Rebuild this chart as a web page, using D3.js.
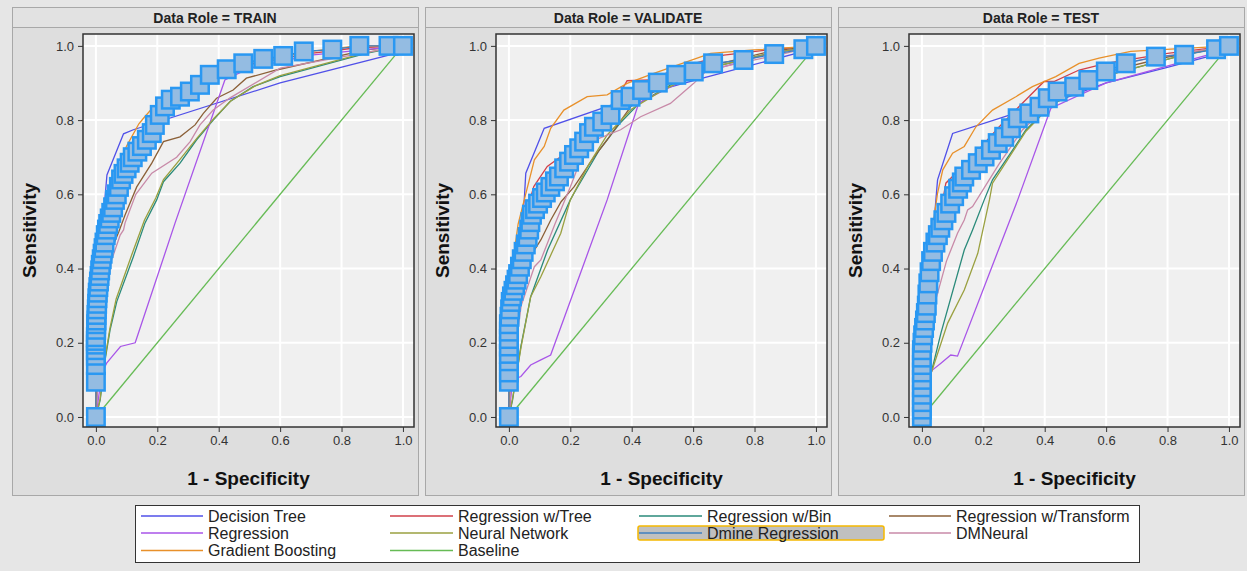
<!DOCTYPE html>
<html>
<head>
<meta charset="utf-8">
<script src="https://cdn.jsdelivr.net/npm/d3@7"></script>
<style>
  body { margin: 0; background: #e6e6e6; font-family: "Liberation Sans", Arial, sans-serif; }
  .tick text { font-size: 13px; fill: #333; }
  .tick line { stroke: #333; }
  .domain { display: none; }
</style>
</head>
<body>
<div id="chart"></div>
<script>
const roles = ["TRAIN", "VALIDATE", "TEST"]
const models = ["Decision Tree", "Regression w/Tree", "Regression w/Bin", "Regression w/Transform",
                "Regression", "Neural Network", "Dmine Regression", "DMNeural",
                "Gradient Boosting", "Baseline"]
const colors = ["#5050e8", "#d0404a", "#2a8a7a", "#8b6038",
                "#a855e8", "#9aa040", "#3f7fc0", "#c88aa8",
                "#e8902a", "#66bb55"]
const tickValues = [0, 0.2, 0.4, 0.6, 0.8, 1.0]

// [1 - specificity, sensitivity] pairs
const baseline = [[0, 0], [1, 1]]

const trainTree = [[0,0],[0.01,0.2],[0.02,0.45],[0.03,0.594],[0.036,0.652],[0.09,0.763],[0.122,0.774],[0.6,0.9],[0.957,0.976],[1,1]]
const trainRegTree = [[0,0],[0.001,0.12],[0.005,0.3],[0.02,0.45],[0.04,0.53],[0.07,0.61],[0.1,0.67],[0.15,0.735],[0.2,0.78],[0.25,0.83],[0.35,0.9],[0.5,0.95],[0.7,0.98],[0.85,0.995],[1,1]]
const trainRegBin = [[0,0],[0.014,0.046],[0.03,0.154],[0.046,0.234],[0.068,0.311],[0.122,0.432],[0.16,0.523],[0.198,0.585],[0.22,0.634],[0.274,0.684],[0.328,0.747],[0.382,0.8],[0.437,0.85],[0.512,0.89],[0.6,0.917],[0.88,0.98],[1,1]]
const trainRegTrans = [[0,0],[0.005,0.1],[0.015,0.25],[0.03,0.38],[0.05,0.45],[0.075,0.5],[0.095,0.544],[0.133,0.62],[0.182,0.684],[0.22,0.742],[0.274,0.755],[0.323,0.787],[0.35,0.818],[0.393,0.859],[0.447,0.881],[0.49,0.913],[0.588,0.935],[0.88,0.989],[1,1]]
const trainReg = [[0,0],[0.02,0.12],[0.035,0.145],[0.06,0.17],[0.08,0.19],[0.128,0.2],[0.258,0.523],[0.42,0.908],[0.5,0.94],[0.7,0.975],[1,1]]
const trainNeural = [[0,0],[0.014,0.05],[0.03,0.16],[0.046,0.24],[0.066,0.318],[0.118,0.44],[0.158,0.53],[0.195,0.59],[0.22,0.64],[0.27,0.69],[0.33,0.752],[0.385,0.805],[0.44,0.852],[0.52,0.893],[0.6,0.92],[0.88,0.982],[1,1]]
const trainDmine = [[0,0],[0,0.095],[0,0.14],[0,0.165],[0,0.18],[0,0.195],[0,0.205],[0,0.215],[0.001,0.235],[0.001,0.25],[0.002,0.26],[0.002,0.275],[0.003,0.29],[0.004,0.305],[0.005,0.32],[0.006,0.335],[0.008,0.35],[0.01,0.365],[0.012,0.38],[0.014,0.395],[0.016,0.41],[0.019,0.425],[0.022,0.44],[0.025,0.455],[0.028,0.47],[0.032,0.49],[0.036,0.505],[0.04,0.52],[0.045,0.535],[0.05,0.55],[0.056,0.565],[0.062,0.585],[0.068,0.6],[0.075,0.62],[0.082,0.64],[0.09,0.655],[0.1,0.67],[0.11,0.685],[0.12,0.7],[0.135,0.715],[0.15,0.73],[0.166,0.747],[0.182,0.765],[0.192,0.787],[0.208,0.814],[0.225,0.837],[0.244,0.855],[0.274,0.863],[0.306,0.877],[0.339,0.895],[0.371,0.922],[0.426,0.937],[0.48,0.953],[0.545,0.965],[0.61,0.973],[0.677,0.985],[0.77,0.99],[0.858,1.0],[0.953,1.0],[1,1]]
const trainDMNeural = [[0,0],[0.01,0.15],[0.03,0.3],[0.05,0.42],[0.079,0.49],[0.09,0.504],[0.095,0.523],[0.13,0.6],[0.182,0.657],[0.263,0.7],[0.307,0.742],[0.339,0.787],[0.382,0.827],[0.437,0.86],[0.6,0.94],[0.9,0.985],[1,1]]
const trainBoost = [[0,0],[0,0.2],[0.01,0.4],[0.03,0.55],[0.06,0.65],[0.1,0.73],[0.14,0.79],[0.155,0.805],[0.187,0.835],[0.25,0.87],[0.35,0.91],[0.5,0.955],[0.7,0.985],[0.85,1.0],[1,1]]

const validTree = [[0,0],[0.02,0.3],[0.04,0.5],[0.05,0.585],[0.055,0.657],[0.115,0.778],[0.42,0.865],[0.64,0.915],[0.96,0.985],[1,1]]
const validRegTree = [[0,0],[0.001,0.15],[0.01,0.3],[0.03,0.45],[0.06,0.56],[0.081,0.621],[0.125,0.675],[0.2,0.72],[0.3,0.8],[0.36,0.87],[0.385,0.906],[0.46,0.908],[0.55,0.94],[0.7,0.975],[0.85,0.99],[1,1]]
const validRegBin = [[0,0],[0.012,0.046],[0.039,0.19],[0.071,0.324],[0.126,0.45],[0.2,0.585],[0.212,0.603],[0.295,0.72],[0.36,0.79],[0.425,0.846],[0.6,0.93],[0.85,0.98],[1,1]]
const validRegTrans = [[0,0],[0.01,0.15],[0.03,0.3],[0.06,0.42],[0.104,0.477],[0.136,0.53],[0.17,0.58],[0.212,0.62],[0.277,0.7],[0.32,0.747],[0.4,0.84],[0.5,0.89],[0.65,0.945],[0.85,0.985],[1,1]]
const validReg = [[0,0],[0.012,0.1],[0.039,0.109],[0.071,0.14],[0.104,0.154],[0.136,0.167],[0.32,0.585],[0.423,0.846],[0.6,0.92],[0.85,0.98],[1,1]]
const validNeural = [[0,0],[0.012,0.05],[0.04,0.19],[0.071,0.324],[0.104,0.378],[0.169,0.495],[0.2,0.585],[0.26,0.68],[0.32,0.76],[0.4,0.83],[0.5,0.88],[0.65,0.94],[0.85,0.98],[1,1]]
const validDmine = [[0,0],[0,0.095],[0,0.12],[0,0.15],[0,0.17],[0,0.19],[0,0.21],[0,0.23],[0,0.25],[0.002,0.27],[0.004,0.29],[0.006,0.31],[0.01,0.325],[0.015,0.34],[0.02,0.355],[0.025,0.37],[0.03,0.385],[0.036,0.405],[0.042,0.425],[0.048,0.445],[0.055,0.465],[0.061,0.485],[0.066,0.505],[0.07,0.525],[0.075,0.545],[0.085,0.56],[0.095,0.575],[0.108,0.59],[0.12,0.605],[0.135,0.62],[0.15,0.635],[0.163,0.648],[0.18,0.67],[0.196,0.688],[0.212,0.706],[0.229,0.724],[0.245,0.742],[0.261,0.765],[0.277,0.782],[0.304,0.796],[0.331,0.814],[0.364,0.854],[0.396,0.863],[0.434,0.881],[0.485,0.901],[0.545,0.922],[0.602,0.931],[0.665,0.953],[0.764,0.962],[0.864,0.978],[0.959,0.991],[1,1]]
const validDMNeural = [[0,0],[0.01,0.12],[0.04,0.3],[0.083,0.405],[0.104,0.423],[0.15,0.52],[0.2,0.62],[0.255,0.738],[0.364,0.774],[0.429,0.809],[0.526,0.845],[0.602,0.899],[0.646,0.935],[0.9,0.98],[1,1]]
const validBoost = [[0,0],[0.002,0.2],[0.01,0.4],[0.03,0.52],[0.05,0.585],[0.083,0.693],[0.115,0.729],[0.136,0.778],[0.179,0.827],[0.255,0.863],[0.32,0.868],[0.385,0.899],[0.472,0.926],[0.657,0.98],[0.797,0.989],[1,1]]

const testTree = [[0,0],[0.02,0.3],[0.045,0.58],[0.051,0.639],[0.1,0.764],[0.28,0.812],[0.42,0.845],[0.6,0.9],[0.79,0.94],[0.95,0.975],[1,1]]
const testRegTree = [[0,0],[0.005,0.15],[0.02,0.35],[0.05,0.5],[0.078,0.63],[0.165,0.702],[0.252,0.782],[0.328,0.846],[0.398,0.904],[0.43,0.904],[0.512,0.935],[0.6,0.953],[0.8,0.98],[1,1]]
const testRegBin = [[0,0],[0.03,0.118],[0.062,0.226],[0.138,0.45],[0.165,0.504],[0.203,0.585],[0.23,0.639],[0.296,0.72],[0.339,0.774],[0.42,0.84],[0.6,0.92],[0.85,0.975],[1,1]]
const testRegTrans = [[0,0],[0.01,0.15],[0.03,0.3],[0.06,0.45],[0.1,0.55],[0.165,0.65],[0.25,0.75],[0.33,0.83],[0.42,0.87],[0.6,0.93],[0.8,0.97],[1,1]]
const testReg = [[0,0],[0.02,0.11],[0.035,0.127],[0.062,0.145],[0.094,0.167],[0.116,0.164],[0.312,0.585],[0.42,0.832],[0.6,0.9],[0.95,0.98],[1,1]]
const testNeural = [[0,0],[0.03,0.118],[0.084,0.253],[0.138,0.342],[0.182,0.441],[0.22,0.585],[0.23,0.63],[0.296,0.715],[0.339,0.77],[0.42,0.84],[0.6,0.92],[0.85,0.975],[1,1]]
const testDmine = [[0,0],[0,0.02],[0,0.04],[0,0.06],[0,0.08],[0,0.1],[0,0.12],[0,0.14],[0,0.16],[0,0.18],[0.002,0.2],[0.004,0.22],[0.007,0.24],[0.01,0.26],[0.013,0.28],[0.016,0.3],[0.018,0.33],[0.021,0.36],[0.025,0.39],[0.03,0.42],[0.036,0.445],[0.044,0.47],[0.052,0.49],[0.06,0.51],[0.07,0.53],[0.08,0.55],[0.092,0.575],[0.105,0.595],[0.118,0.615],[0.13,0.632],[0.138,0.648],[0.16,0.666],[0.182,0.684],[0.204,0.702],[0.225,0.72],[0.247,0.738],[0.268,0.755],[0.29,0.778],[0.312,0.805],[0.35,0.818],[0.383,0.836],[0.41,0.859],[0.442,0.877],[0.496,0.89],[0.542,0.908],[0.599,0.931],[0.664,0.953],[0.762,0.971],[0.854,0.976],[0.958,0.991],[1,1]]
const testDMNeural = [[0,0],[0.01,0.12],[0.04,0.3],[0.08,0.42],[0.116,0.495],[0.138,0.531],[0.149,0.558],[0.165,0.567],[0.25,0.68],[0.328,0.774],[0.45,0.87],[0.7,0.96],[1,1]]
const testBoost = [[0,0],[0.002,0.2],[0.015,0.4],[0.04,0.54],[0.051,0.603],[0.068,0.666],[0.1,0.711],[0.138,0.729],[0.176,0.782],[0.23,0.827],[0.306,0.863],[0.36,0.89],[0.436,0.917],[0.512,0.953],[0.577,0.967],[0.68,0.985],[1,1]]

const curves = {
    TRAIN:    [trainTree, trainRegTree, trainRegBin, trainRegTrans, trainReg, trainNeural, trainDmine, trainDMNeural, trainBoost, baseline],
    VALIDATE: [validTree, validRegTree, validRegBin, validRegTrans, validReg, validNeural, validDmine, validDMNeural, validBoost, baseline],
    TEST:     [testTree, testRegTree, testRegBin, testRegTrans, testReg, testNeural, testDmine, testDMNeural, testBoost, baseline]
}

const W = 1247, H = 571
const svg = d3.select("#chart").append("svg")
    .attr("width", W).attr("height", H)

const panel = { left: 12, top: 7, width: 406, height: 488, step: 413, header: 20 }
const plot = { left: 71, top: 27, width: 331, height: 393 }

const xScale = d3.scaleLinear().domain([-0.042, 1.036]).range([0, plot.width])
const yScale = d3.scaleLinear().domain([-0.027, 1.032]).range([plot.height, 0])
const fmt = d3.format(".1f")

const line = d3.line()
    .x(d => xScale(d[0]))
    .y(d => yScale(d[1]))

roles.forEach(function(role, i){
    const g = svg.append("g")
        .attr("transform", `translate(${panel.left + i * panel.step},${panel.top})`)

    g.append("rect")
        .attr("x", 0.5).attr("y", 0.5)
        .attr("width", panel.width).attr("height", panel.height)
        .attr("fill", "#dedede").attr("stroke", "#a8a8a8")
    g.append("rect")
        .attr("x", 0.5).attr("y", 0.5)
        .attr("width", panel.width).attr("height", panel.header)
        .attr("fill", "#e2e2e2").attr("stroke", "#a8a8a8")
    g.append("text")
        .attr("x", panel.width / 2).attr("y", 15.5)
        .attr("text-anchor", "middle")
        .style("font-size", "14px").style("font-weight", "bold").style("fill", "#222")
        .text("Data Role = " + role)

    const chart = g.append("g")
        .attr("transform", `translate(${plot.left},${plot.top})`)

    chart.append("rect")
        .attr("width", plot.width).attr("height", plot.height)
        .attr("fill", "#f0f0f0")

    // grid
    chart.selectAll(".vgrid").data(tickValues).enter()
        .append("line")
        .attr("x1", d => xScale(d)).attr("x2", d => xScale(d))
        .attr("y1", 0).attr("y2", plot.height)
        .attr("stroke", "#ffffff").attr("stroke-width", 2)
    chart.selectAll(".hgrid").data(tickValues).enter()
        .append("line")
        .attr("y1", d => yScale(d)).attr("y2", d => yScale(d))
        .attr("x1", 0).attr("x2", plot.width)
        .attr("stroke", "#ffffff").attr("stroke-width", 2)

    const clip = "clip-" + role
    chart.append("clipPath").attr("id", clip)
        .append("rect").attr("width", plot.width).attr("height", plot.height)

    const body = chart.append("g").attr("clip-path", `url(#${clip})`)

    // baseline first, then the models, Dmine markers on top
    const order = [9, 0, 1, 2, 3, 4, 5, 7, 8, 6]
    order.forEach(function(k){
        body.append("path")
            .datum(curves[role][k])
            .attr("d", line)
            .attr("fill", "none")
            .attr("stroke", colors[k])
            .attr("stroke-width", 1.3)
    })

    body.selectAll(".mark")
        .data(curves[role][6])
        .enter()
        .append("rect")
        .attr("x", d => xScale(d[0]) - 8.75)
        .attr("y", d => yScale(d[1]) - 8.75)
        .attr("width", 17.5).attr("height", 17.5)
        .attr("fill", "#94bce2")
        .attr("stroke", "#2a98f2")
        .attr("stroke-width", 2.5)

    chart.append("rect")
        .attr("width", plot.width).attr("height", plot.height)
        .attr("fill", "none").attr("stroke", "#333").attr("stroke-width", 1.5)

    chart.append("g")
        .attr("transform", `translate(0,${plot.height})`)
        .call(d3.axisBottom(xScale).tickValues(tickValues).tickFormat(fmt).tickSize(5).tickPadding(4))
    chart.append("g")
        .call(d3.axisLeft(yScale).tickValues(tickValues).tickFormat(fmt).tickSize(5).tickPadding(4))

    chart.append("text")
        .attr("x", plot.width / 2).attr("y", plot.height + 58)
        .attr("text-anchor", "middle")
        .style("font-size", "19px").style("font-weight", "bold").style("fill", "#111")
        .text("1 - Specificity")
    chart.append("text")
        .attr("transform", "rotate(-90)")
        .attr("x", -plot.height / 2).attr("y", -47)
        .attr("text-anchor", "middle")
        .style("font-size", "19px").style("font-weight", "bold").style("fill", "#111")
        .text("Sensitivity")
})

// legend
const legend = svg.append("g").attr("transform", "translate(135,505)")
legend.append("rect")
    .attr("x", 0.5).attr("y", 0.5)
    .attr("width", 1004).attr("height", 57)
    .attr("fill", "#ffffff").attr("stroke", "#333")

const colX = [6, 255, 504, 754]
const colLen = [62, 63, 63, 62]
const rowY = [11, 28, 45.5]

// highlighted entry (Dmine Regression)
legend.append("rect")
    .attr("x", 503).attr("y", 21)
    .attr("width", 246).attr("height", 14)
    .attr("rx", 2)
    .attr("fill", "#c0c0c0").attr("stroke", "#f5b800").attr("stroke-width", 1.5)

models.forEach(function(m, k){
    const c = k % 4, r = Math.floor(k / 4)
    legend.append("line")
        .attr("x1", colX[c]).attr("x2", colX[c] + colLen[c])
        .attr("y1", rowY[r]).attr("y2", rowY[r])
        .attr("stroke", colors[k]).attr("stroke-width", 1.3)
    legend.append("text")
        .attr("x", colX[c] + colLen[c] + 5).attr("y", rowY[r] + 5.5)
        .style("font-size", "16px").style("fill", "#222")
        .text(m)
})
</script>
</body>
</html>
